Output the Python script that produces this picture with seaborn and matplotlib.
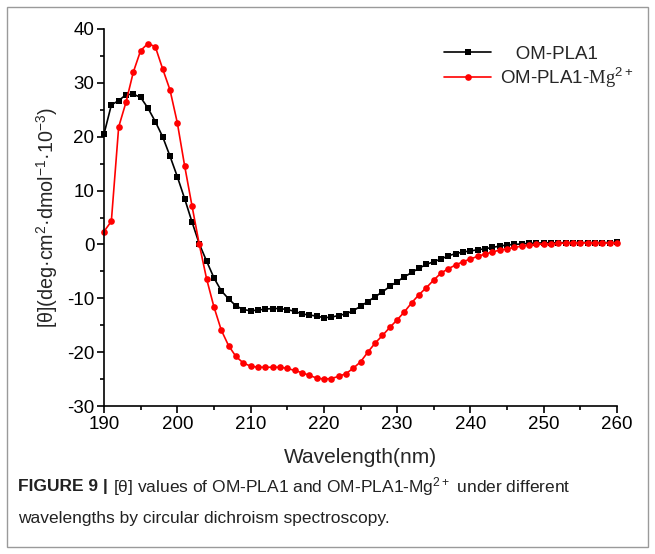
import matplotlib
matplotlib.use('Agg')
import matplotlib.pyplot as plt
from matplotlib.patches import Rectangle
from matplotlib.ticker import MultipleLocator
import seaborn as sns
import pandas as pd

# 파장 (nm), 1 nm 간격
wavelength = list(range(190, 261))

# OM-PLA1 (검정, 사각형)
om_pla1 = [20.5, 25.9, 26.7, 27.8, 27.9, 27.3, 25.3, 22.8, 20.0, 16.4,
           12.6, 8.5, 4.2, 0.1, -3.1, -6.2, -8.6, -10.1, -11.4, -12.1,
           -12.3, -12.2, -12.0, -11.9, -11.9, -12.1, -12.4, -12.9, -13.1, -13.3,
           -13.6, -13.5, -13.2, -12.9, -12.3, -11.5, -10.6, -9.7, -8.8, -7.8,
           -6.9, -6.0, -5.2, -4.4, -3.7, -3.2, -2.7, -2.1, -1.7, -1.4,
           -1.2, -1.0, -0.8, -0.55, -0.3, -0.1, 0.0, 0.1, 0.2, 0.25,
           0.3, 0.3, 0.3, 0.35, 0.35, 0.35, 0.35, 0.35, 0.35, 0.35, 0.4]

# OM-PLA1-Mg2+ (빨강, 원)
om_pla1_mg = [2.4, 4.3, 21.8, 26.4, 32.0, 36.0, 37.3, 36.7, 32.6, 28.7,
              22.6, 14.6, 7.2, 0.0, -6.4, -11.6, -15.9, -18.8, -20.8, -22.0,
              -22.6, -22.8, -22.8, -22.8, -22.8, -23.0, -23.4, -23.8, -24.3, -24.8,
              -25.0, -24.9, -24.5, -24.0, -23.0, -21.8, -20.0, -18.3, -16.9, -15.4,
              -14.0, -12.5, -10.8, -9.3, -8.0, -6.6, -5.3, -4.5, -3.8, -3.2,
              -2.7, -2.2, -1.8, -1.4, -1.05, -0.8, -0.56, -0.3, -0.13, 0.0,
              0.06, 0.1, 0.2, 0.25, 0.3, 0.3, 0.3, 0.25, 0.25, 0.3, 0.3]

labels = ['   OM-PLA1', r'OM-PLA1-$\mathrm{Mg}^{2+}$']

sns.set_style('ticks')
plt.rcParams['font.family'] = ['Liberation Sans', 'DejaVu Sans']
plt.rcParams['mathtext.fontset'] = 'custom'
plt.rcParams['mathtext.rm'] = 'Liberation Serif'
plt.rcParams['mathtext.default'] = 'regular'
plt.rcParams['axes.unicode_minus'] = False

df = pd.DataFrame({
    'wavelength': wavelength * 2,
    'theta': om_pla1 + om_pla1_mg,
    'sample': [labels[0]] * len(wavelength) + [labels[1]] * len(wavelength),
})

fig = plt.figure(figsize=(6.55, 5.54), dpi=100)
ax = fig.add_axes([0.1588, 0.2671, 0.7832, 0.6806])

sns.lineplot(data=df, x='wavelength', y='theta', hue='sample', style='sample',
             palette=['black', 'red'], markers=['s', 'o'], dashes=False,
             markersize=4.8, markeredgewidth=0, linewidth=1.2, ax=ax,
             clip_on=False)

ax.set_xlim(190, 260)
ax.set_ylim(-30, 40)
ax.xaxis.set_major_locator(MultipleLocator(10))
ax.xaxis.set_minor_locator(MultipleLocator(5))
ax.yaxis.set_major_locator(MultipleLocator(10))
ax.yaxis.set_minor_locator(MultipleLocator(5))
ax.tick_params(which='major', length=5, width=1.2, labelsize=13.5, color='black', labelcolor='black', pad=2)
ax.tick_params(which='minor', length=3, width=1.2, color='black')
for s in ['top', 'right']:
    ax.spines[s].set_visible(False)
for s in ['left', 'bottom']:
    ax.spines[s].set_linewidth(1.2)
    ax.spines[s].set_color('black')

ax.set_xlabel('Wavelength(nm)', fontsize=15, labelpad=11)
ax.set_ylabel(r'[θ](deg·cm$^2$·dmol$^{-1}$·10$^{-3}$)', fontsize=14.2, labelpad=5)

leg = ax.legend(loc='upper left', bbox_to_anchor=(0.63, 1.0), frameon=False,
                fontsize=13.5, handlelength=2.5, handletextpad=0.5, labelspacing=0.15)

# 그림 테두리
fig.patches.append(Rectangle((7 / 655, 7 / 554), 641 / 655, 540 / 554, transform=fig.transFigure,
                             fill=False, edgecolor='#9a9a9a', linewidth=1.0))

# 캡션
cap_color = '#222222'
fig.canvas.draw()
t1 = fig.text(18 / 655, 1 - 487 / 554, 'FIGURE 9 |', fontsize=12.5, fontweight='bold',
              color=cap_color, va='center', ha='left')
fig.canvas.draw()
bb = t1.get_window_extent()
fig.text((bb.x1 + 5) / 655, 1 - 487 / 554,
         r'[θ] values of OM-PLA1 and OM-PLA1-Mg$^{2+}$ under different',
         fontsize=12.5, color=cap_color, va='center', ha='left')
fig.text(18 / 655, 1 - 519 / 554, 'wavelengths by circular dichroism spectroscopy.',
         fontsize=12.5, color=cap_color, va='center', ha='left')

fig.savefig('out.png', dpi=100)
